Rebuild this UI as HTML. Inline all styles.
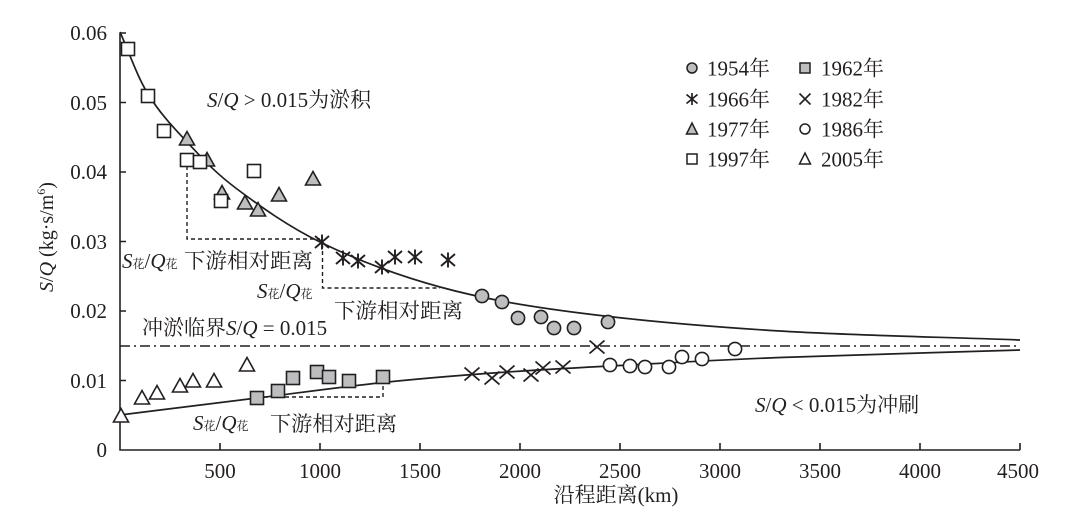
<!DOCTYPE html>
<html>
<head>
<meta charset="utf-8">
<style>
html,body{margin:0;padding:0;background:#fff;}
svg{display:block;}
text{font-family:"Liberation Serif","Noto Serif CJK SC",serif;fill:#231f20;}
</style>
</head>
<body>
<svg width="1089" height="518" viewBox="0 0 1089 518" xmlns="http://www.w3.org/2000/svg">
<defs>
  <g id="gc"><circle r="6.6" fill="#bcbec0" stroke="#231f20" stroke-width="1.6"/></g>
  <g id="oc"><circle r="6.6" fill="#fff" stroke="#231f20" stroke-width="1.6"/></g>
  <g id="gs"><rect x="-6.5" y="-6.5" width="13" height="13" fill="#bcbec0" stroke="#231f20" stroke-width="1.6"/></g>
  <g id="os"><rect x="-6.5" y="-6.5" width="13" height="13" fill="#fff" stroke="#231f20" stroke-width="1.6"/></g>
  <g id="gt"><polygon points="0,-7.5 7.5,6 -7.5,6" fill="#bcbec0" stroke="#231f20" stroke-width="1.6"/></g>
  <g id="ot"><polygon points="0,-7.5 7.5,6 -7.5,6" fill="#fff" stroke="#231f20" stroke-width="1.6"/></g>
  <g id="as" stroke="#231f20" stroke-width="1.9" fill="none"><path d="M0,-7.5V7.5M-7,-6L7,6M-7,6L7,-6"/></g>
  <g id="xx" stroke="#231f20" stroke-width="1.8" fill="none"><path d="M-7.5,-6.5L7.5,6.5M-7.5,6.5L7.5,-6.5"/></g>
  <!-- legend (smaller) -->
  <g id="lgc"><circle r="5" fill="#bcbec0" stroke="#231f20" stroke-width="1.5"/></g>
  <g id="loc"><circle r="5" fill="#fff" stroke="#231f20" stroke-width="1.5"/></g>
  <g id="lgs"><rect x="-5" y="-5" width="10" height="10" fill="#bcbec0" stroke="#231f20" stroke-width="1.5"/></g>
  <g id="los"><rect x="-5" y="-5" width="10" height="10" fill="#fff" stroke="#231f20" stroke-width="1.5"/></g>
  <g id="lgt"><polygon points="0,-6 5.5,5 -5.5,5" fill="#bcbec0" stroke="#231f20" stroke-width="1.5"/></g>
  <g id="lot"><polygon points="0,-6 5.5,5 -5.5,5" fill="#fff" stroke="#231f20" stroke-width="1.5"/></g>
  <g id="las" stroke="#231f20" stroke-width="1.7" fill="none"><path d="M0,-6V6M-5.5,-4.5L5.5,4.5M-5.5,4.5L5.5,-4.5"/></g>
  <g id="lxx" stroke="#231f20" stroke-width="1.6" fill="none"><path d="M-5.5,-5.5L5.5,5.5M-5.5,5.5L5.5,-5.5"/></g>
</defs>

<!-- axes -->
<g stroke="#231f20" stroke-width="1.6" fill="none">
  <path d="M120,33V450H1020"/>
  <path d="M120,33H126M120,102.5H126M120,172H126M120,241.5H126M120,311H126M120,380.5H126"/>
  <path d="M220,450V443M320,450V443M420,450V443M520,450V443M620,450V443M720,450V443M820,450V443M920,450V443M1020,450V443"/>
</g>

<!-- y tick labels -->
<g font-size="21" text-anchor="end">
  <text x="107" y="40">0.06</text>
  <text x="107" y="110">0.05</text>
  <text x="107" y="179">0.04</text>
  <text x="107" y="249">0.03</text>
  <text x="107" y="318">0.02</text>
  <text x="107" y="388">0.01</text>
  <text x="107" y="457">0</text>
</g>
<!-- x tick labels -->
<g font-size="21" text-anchor="middle">
  <text x="220" y="478">500</text>
  <text x="320" y="478">1000</text>
  <text x="420" y="478">1500</text>
  <text x="520" y="478">2000</text>
  <text x="620" y="478">2500</text>
  <text x="720" y="478">3000</text>
  <text x="820" y="478">3500</text>
  <text x="920" y="478">4000</text>
  <text x="1018" y="478">4500</text>
</g>

<!-- axis titles -->
<text x="616" y="502" font-size="21" text-anchor="middle">沿程距离(km)</text>
<text transform="translate(53,237) rotate(-90)" font-size="20" text-anchor="middle"><tspan font-style="italic">S</tspan>/<tspan font-style="italic">Q</tspan> (kg·s/m<tspan font-size="12" dy="-8">6</tspan><tspan dy="8">)</tspan></text>

<!-- critical dash-dot line -->
<path d="M120,346H1020" stroke="#231f20" stroke-width="1.4" stroke-dasharray="10 4 2 4" fill="none"/>

<!-- fitted curves -->
<g stroke="#231f20" stroke-width="1.7" fill="none">
  <path d="M120,32 C129.3,52.7 136.8,75.7 148,94 C159.2,112.3 172.2,126.2 187,142 C201.8,157.8 214.5,172.2 237,189 C259.5,205.8 288.2,226.7 322,243 C355.8,259.3 397,275.3 440,287 C483,298.7 523.3,305.7 580,313 C636.7,320.3 706.7,326.5 780,331 C853.3,335.5 940,337 1020,340"/>
  <path d="M120,415 C165.7,409.3 213.2,403.4 257,398 C300.8,392.6 342.5,386.75 383,382.5 C423.5,378.25 460.5,375.3 500,372.5 C539.5,369.7 573.3,368 620,365.5 C666.7,363 713.3,360.1 780,357.5 C846.7,354.9 940,352.5 1020,350"/>
</g>

<!-- dashed guide lines -->
<g stroke="#231f20" stroke-width="1.4" stroke-dasharray="4 3" fill="none">
  <path d="M187,166V239H320"/>
  <path d="M322.5,244V288H440"/>
  <path d="M264,397H383V384"/>
</g>

<!-- 1977 gray triangles -->
<use href="#gt" x="187" y="139"/>
<use href="#gt" x="207" y="160"/>
<use href="#gt" x="222" y="193"/>
<use href="#gt" x="245" y="203"/>
<use href="#gt" x="258" y="210"/>
<use href="#gt" x="279" y="195"/>
<use href="#gt" x="313" y="179"/>
<!-- 1997 open squares -->
<use href="#os" x="128" y="49"/>
<use href="#os" x="148" y="96"/>
<use href="#os" x="164" y="131"/>
<use href="#os" x="187" y="160"/>
<use href="#os" x="200" y="162"/>
<use href="#os" x="221" y="201"/>
<use href="#os" x="254" y="171"/>
<!-- 1966 asterisks -->
<use href="#as" x="322" y="242"/>
<use href="#as" x="343" y="258"/>
<use href="#as" x="358" y="261"/>
<use href="#as" x="382" y="267"/>
<use href="#as" x="395" y="257"/>
<use href="#as" x="415" y="257"/>
<use href="#as" x="448" y="260"/>
<!-- 1954 gray circles -->
<use href="#gc" x="482" y="296"/>
<use href="#gc" x="502" y="302"/>
<use href="#gc" x="518" y="318"/>
<use href="#gc" x="541" y="317"/>
<use href="#gc" x="554" y="328"/>
<use href="#gc" x="574" y="328"/>
<use href="#gc" x="608" y="322"/>
<!-- 1982 x -->
<use href="#xx" x="472" y="374"/>
<use href="#xx" x="492" y="378"/>
<use href="#xx" x="507" y="372"/>
<use href="#xx" x="531" y="375"/>
<use href="#xx" x="543" y="368"/>
<use href="#xx" x="563" y="367"/>
<use href="#xx" x="597" y="347"/>
<!-- 1986 open circles -->
<use href="#oc" x="610" y="365"/>
<use href="#oc" x="630" y="366"/>
<use href="#oc" x="645" y="367"/>
<use href="#oc" x="669" y="367"/>
<use href="#oc" x="682" y="357"/>
<use href="#oc" x="702" y="359"/>
<use href="#oc" x="735" y="349"/>
<!-- 1962 gray squares -->
<use href="#gs" x="257" y="398"/>
<use href="#gs" x="278" y="391"/>
<use href="#gs" x="293" y="378"/>
<use href="#gs" x="317" y="372"/>
<use href="#gs" x="329" y="377"/>
<use href="#gs" x="349" y="381"/>
<use href="#gs" x="383" y="377"/>
<!-- 2005 open triangles -->
<use href="#ot" x="121" y="416"/>
<use href="#ot" x="142" y="398"/>
<use href="#ot" x="157" y="393"/>
<use href="#ot" x="180" y="386"/>
<use href="#ot" x="193" y="381"/>
<use href="#ot" x="214" y="381"/>
<use href="#ot" x="247" y="365"/>

<!-- annotations -->
<g font-size="21">
  <text x="207" y="107"><tspan font-style="italic">S</tspan>/<tspan font-style="italic">Q</tspan> &gt; 0.015为淤积</text>
  <text x="755" y="412"><tspan font-style="italic">S</tspan>/<tspan font-style="italic">Q</tspan> &lt; 0.015为冲刷</text>
  <text x="142" y="335">冲淤临界<tspan font-style="italic">S</tspan>/<tspan font-style="italic">Q</tspan> = 0.015</text>

  <text x="122" y="268"><tspan font-style="italic">S</tspan><tspan font-size="12">花</tspan>/<tspan font-style="italic">Q</tspan><tspan font-size="12">花</tspan></text>
  <text x="184" y="268" textLength="129" lengthAdjust="spacingAndGlyphs">下游相对距离</text>

  <text x="257" y="298"><tspan font-style="italic">S</tspan><tspan font-size="12">花</tspan>/<tspan font-style="italic">Q</tspan><tspan font-size="12">花</tspan></text>
  <text x="334" y="318" textLength="129" lengthAdjust="spacingAndGlyphs">下游相对距离</text>

  <text x="193" y="430"><tspan font-style="italic">S</tspan><tspan font-size="12">花</tspan>/<tspan font-style="italic">Q</tspan><tspan font-size="12">花</tspan></text>
  <text x="270" y="431" textLength="127" lengthAdjust="spacingAndGlyphs">下游相对距离</text>
</g>

<!-- legend -->
<use href="#lgc" x="692" y="68"/>
<use href="#las" x="692" y="99"/>
<use href="#lgt" x="692" y="129"/>
<use href="#los" x="692" y="159"/>
<use href="#lgs" x="805" y="68"/>
<use href="#lxx" x="805" y="99"/>
<use href="#loc" x="805" y="129"/>
<use href="#lot" x="805" y="159"/>
<g font-size="21">
  <text x="707" y="75.5">1954年</text>
  <text x="707" y="106.5">1966年</text>
  <text x="707" y="136.5">1977年</text>
  <text x="707" y="166.5">1997年</text>
  <text x="821" y="75.5">1962年</text>
  <text x="821" y="106.5">1982年</text>
  <text x="821" y="136.5">1986年</text>
  <text x="821" y="166.5">2005年</text>
</g>
</svg>
</body>
</html>
